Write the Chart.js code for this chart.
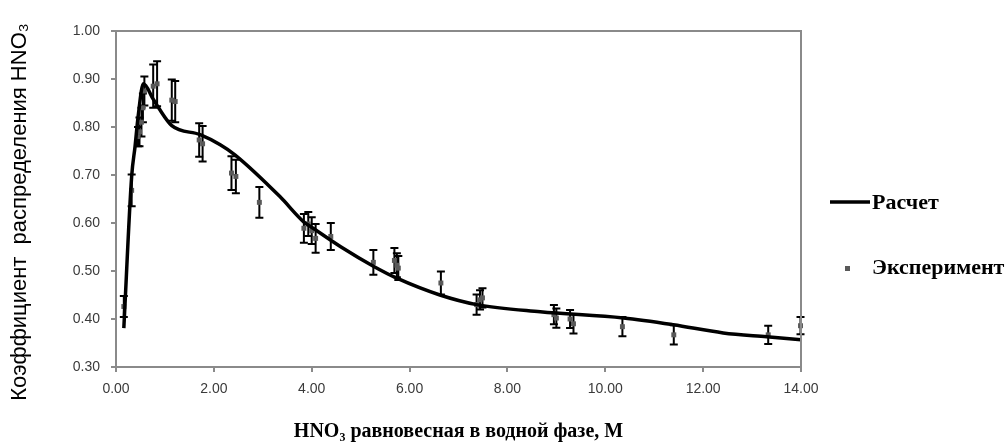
<!DOCTYPE html>
<html>
<head>
<meta charset="utf-8">
<script src="https://cdn.jsdelivr.net/npm/chart.js@4.4.0/dist/chart.umd.min.js"></script>
<style>
  html, body { margin: 0; padding: 0; background: #fff; }
  #wrap { width: 1008px; height: 446px; }
</style>
</head>
<body>
<div id="wrap"><canvas id="myChart" width="1008" height="446"></canvas></div>
<script>
// расчетная кривая
const calcX = [0.16, 0.32, 0.39, 0.45, 0.56, 0.76, 0.87, 1.14, 1.72, 2.13, 2.43, 3.35, 3.83, 4.03, 4.6, 5.26, 5.74, 6.62, 7.37, 8.67, 10.37, 11.39, 12.41, 13.3, 14.0]
const calcY = [0.381, 0.697, 0.76, 0.82, 0.89, 0.858, 0.84, 0.803, 0.784, 0.763, 0.742, 0.655, 0.603, 0.589, 0.55, 0.51, 0.485, 0.45, 0.43, 0.415, 0.402, 0.388, 0.371, 0.363, 0.357]

// эксперимент
const expX = [0.16, 0.32, 0.45, 0.48, 0.52, 0.55, 0.58, 0.76, 0.84, 1.14, 1.21, 1.70, 1.77, 2.36, 2.45, 2.93, 3.84, 3.93, 4.00, 4.08, 4.39, 5.26, 5.69, 5.74, 5.77, 6.64, 7.37, 7.44, 7.49, 8.95, 9.00, 9.28, 9.35, 10.35, 11.40, 13.33, 13.99]
const expY = [0.426, 0.668, 0.78, 0.79, 0.81, 0.84, 0.875, 0.885, 0.89, 0.856, 0.853, 0.773, 0.765, 0.704, 0.697, 0.643, 0.589, 0.598, 0.584, 0.568, 0.572, 0.518, 0.522, 0.512, 0.506, 0.475, 0.43, 0.44, 0.444, 0.409, 0.402, 0.400, 0.390, 0.384, 0.367, 0.367, 0.386]
const expErr = [0.022, 0.033, 0.02, 0.03, 0.03, 0.03, 0.03, 0.045, 0.047, 0.043, 0.043, 0.035, 0.037, 0.035, 0.035, 0.032, 0.03, 0.025, 0.028, 0.03, 0.028, 0.026, 0.026, 0.025, 0.025, 0.024, 0.021, 0.02, 0.02, 0.02, 0.02, 0.019, 0.02, 0.02, 0.02, 0.019, 0.018]

const xTicks = [0, 2, 4, 6, 8, 10, 12, 14]
const yTicks = [0.3, 0.4, 0.5, 0.6, 0.7, 0.8, 0.9, 1.0]

const axisColor = '#8a8a8a'

const errorBars = {
    id: 'errorBars',
    beforeDatasetDraw(chart, args) {
        if (args.index !== 1) return
        const ctx = chart.ctx
        const xs = chart.scales.x, ys = chart.scales.y
        ctx.save()
        ctx.strokeStyle = '#000'
        ctx.lineWidth = 2
        expX.forEach((x, i) => {
            const px = xs.getPixelForValue(x)
            const top = ys.getPixelForValue(expY[i] + expErr[i])
            const bot = ys.getPixelForValue(expY[i] - expErr[i])
            ctx.beginPath()
            ctx.moveTo(px, top); ctx.lineTo(px, bot)
            ctx.moveTo(px - 4, top); ctx.lineTo(px + 4, top)
            ctx.moveTo(px - 4, bot); ctx.lineTo(px + 4, bot)
            ctx.stroke()
        })
        ctx.restore()
    }
}

const frame = {
    id: 'frame',
    afterDraw(chart) {
        const { ctx, chartArea: a } = chart
        ctx.save()
        ctx.strokeStyle = axisColor
        ctx.lineWidth = 2
        ctx.beginPath()
        ctx.moveTo(a.left, a.top); ctx.lineTo(a.right, a.top); ctx.lineTo(a.right, a.bottom)
        ctx.stroke()

        // подпись оси Y
        ctx.save()
        ctx.translate(20, 212)
        ctx.rotate(-Math.PI / 2)
        ctx.fillStyle = '#000'
        ctx.font = '22px "Liberation Sans"'
        ctx.textAlign = 'center'
        ctx.textBaseline = 'middle'
        ctx.fillText('Коэффициент  распределения HNO₃', 0, 0)
        ctx.restore()

        // легенда
        ctx.strokeStyle = '#000'
        ctx.lineWidth = 3.5
        ctx.beginPath()
        ctx.moveTo(830, 202); ctx.lineTo(870, 202)
        ctx.stroke()
        ctx.fillStyle = '#595959'
        ctx.fillRect(845, 266, 5, 5)
        ctx.fillStyle = '#000'
        ctx.font = 'bold 22px "Liberation Serif"'
        ctx.textBaseline = 'middle'
        ctx.fillText('Расчет', 872, 203)
        ctx.fillText('Эксперимент', 872, 268)
        ctx.restore()
    }
}

new Chart(document.getElementById('myChart'), {
    type: 'scatter',
    data: {
        datasets: [{
            label: 'Расчет',
            type: 'line',
            data: calcX.map((x, i) => ({ x, y: calcY[i] })),
            borderColor: '#000',
            borderWidth: 3.5,
            pointRadius: 0,
            cubicInterpolationMode: 'monotone',
            fill: false
        }, {
            label: 'Эксперимент',
            data: expX.map((x, i) => ({ x, y: expY[i] })),
            pointStyle: 'rect',
            pointRadius: 3.5,
            backgroundColor: '#595959',
            borderWidth: 0,
            clip: false
        }]
    },
    options: {
        responsive: false,
        animation: false,
        devicePixelRatio: 1,
        layout: { padding: { left: 0, top: 31, right: 207, bottom: 0 } },
        plugins: { legend: { display: false }, tooltip: { enabled: false } },
        scales: {
            x: {
                type: 'linear', min: 0, max: 14,
                afterFit(s) { s.height = 79 },
                afterBuildTicks(s) { s.ticks = xTicks.map(v => ({ value: v })) },
                ticks: { padding: 9, color: '#3a3a3a', font: { family: 'Liberation Sans', size: 14 },
                    callback: v => v.toFixed(2), maxRotation: 0 },
                grid: { drawOnChartArea: false, tickLength: 5, color: axisColor, lineWidth: 2 },
                border: { color: axisColor, width: 2 },
                title: { display: true, text: 'HNO₃ равновесная в водной фазе, М', color: '#000',
                    font: { family: 'Liberation Serif', size: 20, weight: 'bold' }, padding: { top: 4, bottom: 2 } }
            },
            y: {
                type: 'linear', min: 0.3, max: 1.0,
                afterFit(s) { s.width = 116 },
                afterBuildTicks(s) { s.ticks = yTicks.map(v => ({ value: v })) },
                ticks: { padding: 11, color: '#3a3a3a', font: { family: 'Liberation Sans', size: 14 },
                    callback: v => v.toFixed(2) },
                grid: { drawOnChartArea: false, tickLength: 5, color: axisColor, lineWidth: 2 },
                border: { color: axisColor, width: 2 }
            }
        }
    },
    plugins: [errorBars, frame]
})
</script>
</body>
</html>
